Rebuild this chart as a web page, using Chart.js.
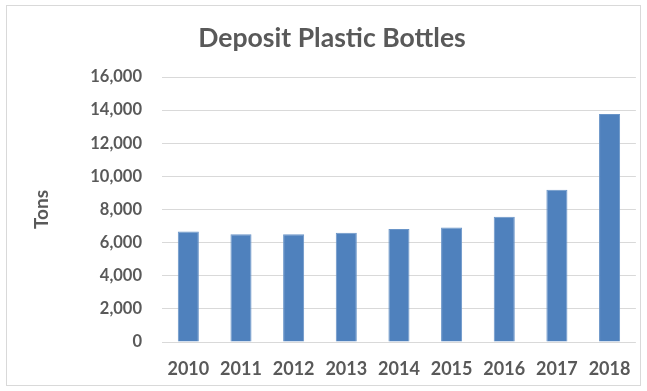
<!DOCTYPE html>
<html>
<head>
<meta charset="utf-8">
<script src="https://cdn.jsdelivr.net/npm/chart.js@4"></script>
<style>
html,body{margin:0;padding:0;background:#fff;}
#wrap{position:relative;width:647px;height:391px;}
</style>
</head>
<body>
<div id="wrap"><canvas id="c" width="647" height="391"></canvas></div>
<script>
const categories = ["2010","2011","2012","2013","2014","2015","2016","2017","2018"];
const tons = [6670, 6510, 6510, 6600, 6830, 6910, 7560, 9200, 13760];
const yTicks = [0, 2000, 4000, 6000, 8000, 10000, 12000, 14000, 16000];
const chartTitle = "Deposit Plastic Bottles";
const yTitle = "Tons";

const FONT = "Lato, 'Open Sans', sans-serif";
const GRAY = "#595959";

const borderPlugin = {
  id: 'outerBorder',
  beforeDraw(chart) {
    const ctx = chart.ctx;
    ctx.save();
    ctx.fillStyle = '#fff';
    ctx.fillRect(0, 0, chart.width, chart.height);
    ctx.strokeStyle = '#d9d9d9';
    ctx.lineWidth = 1;
    ctx.strokeRect(6.5, 5.5, 634, 380);
    ctx.restore();
  }
};

new Chart(document.getElementById('c'), {
  type: 'bar',
  data: {
    labels: categories,
    datasets: [{
      data: tons,
      backgroundColor: '#4f81bd',
      borderColor: '#6a95c8',
      borderWidth: 1,
      barPercentage: 0.4,
      categoryPercentage: 1.0
    }]
  },
  options: {
    responsive: false,
    animation: false,
    devicePixelRatio: 1,
    layout: { padding: { left: 27, right: 10, top: 0, bottom: 0 } },
    plugins: {
      legend: { display: false },
      tooltip: { enabled: false },
      title: {
        display: true,
        text: chartTitle,
        color: GRAY,
        font: { family: FONT, size: 26.6, weight: 'bold' },
        padding: { top: 22.2, bottom: 22.9 }
      }
    },
    scales: {
      x: {
        grid: { display: false, drawTicks: false },
        border: { display: false },
        ticks: {
          color: GRAY,
          font: { family: FONT, size: 18, weight: 'bold' },
          padding: 16,
          maxRotation: 0
        },
        afterFit(scale) { scale.height = 49; }
      },
      y: {
        min: 0,
        max: 16000,
        afterBuildTicks(scale) { scale.ticks = yTicks.map(v => ({ value: v })); },
        grid: { color: '#d9d9d9', lineWidth: 1, drawTicks: false },
        border: { display: false },
        ticks: {
          color: GRAY,
          font: { family: FONT, size: 16.5, weight: 'bold' },
          padding: 20,
          callback: v => v.toLocaleString('en-US')
        },
        title: {
          display: true,
          text: yTitle,
          color: GRAY,
          font: { family: FONT, size: 19, weight: 'bold' },
          padding: { top: 3.5, bottom: 0 }
        },
        afterFit(scale) { scale.width = 135; }
      }
    }
  },
  plugins: [borderPlugin]
});
</script>
</body>
</html>
